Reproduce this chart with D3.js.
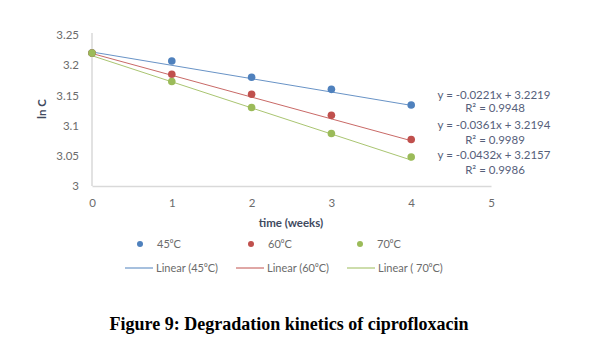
<!DOCTYPE html>
<html><head><meta charset="utf-8">
<script src="https://cdn.jsdelivr.net/npm/d3@7"></script>
<style>body{margin:0;background:#fff}</style>
</head><body>
<svg id="c" width="589" height="344"></svg>
<script>
const weeks = [0, 1, 2, 3, 4];
const seriesNames = ["45⁰C", "60⁰C", "70⁰C"];
const trendNames = ["Linear (45⁰C)", "Linear (60⁰C)", "Linear ( 70⁰C)"];
const vals45 = [3.220, 3.207, 3.180, 3.160, 3.134];
const vals60 = [3.220, 3.185, 3.152, 3.117, 3.077];
const vals70 = [3.220, 3.173, 3.130, 3.087, 3.048];
const slopes = [-0.0221, -0.0361, -0.0432];
const intercepts = [3.2219, 3.2194, 3.2157];
const r2 = ["0.9948", "0.9989", "0.9986"];
const xTicks = [0, 1, 2, 3, 4, 5];
const yTicks = [3, 3.05, 3.1, 3.15, 3.2, 3.25];
const colors = ["#4F81BD", "#C0504D", "#9BBB59"];

const FONT = "Lato, Carlito, 'Liberation Sans', sans-serif";
const svg = d3.select("#c");
const x = d3.scaleLinear().domain([0, 5]).range([92, 491]);
const y = d3.scaleLinear().domain([3, 3.25]).range([186, 35]);
const allVals = [vals45, vals60, vals70];

// axes
const yAxis = svg.append("g").attr("transform", "translate(92,0)")
  .call(d3.axisLeft(y).tickValues(yTicks).tickSize(0).tickPadding(13).tickFormat(d => String(+d.toFixed(2))));
const xAxis = svg.append("g").attr("transform", "translate(0,186)")
  .call(d3.axisBottom(x).tickValues(xTicks).tickSize(0).tickPadding(13).tickFormat(d3.format("d")));
[yAxis, xAxis].forEach(g => {
  g.select(".domain").attr("stroke", "#D9D9D9").attr("stroke-width", 1.5);
  g.selectAll("text").attr("fill", "#6b6b6b").style("font-family", FONT).style("font-size", "11.5px");
});
yAxis.select(".domain").attr("d", "M0,33V186");

// trendlines
allVals.forEach((v, i) => {
  svg.append("line")
    .attr("x1", x(0)).attr("y1", y(intercepts[i]))
    .attr("x2", x(4)).attr("y2", y(intercepts[i] + slopes[i] * 4))
    .attr("stroke", colors[i]).attr("stroke-width", 1).attr("opacity", 0.85);
});
// points
allVals.forEach((v, i) => {
  svg.append("g").selectAll("circle").data(v).join("circle")
    .attr("cx", (d, j) => x(weeks[j])).attr("cy", d => y(d)).attr("r", 3.8)
    .attr("fill", colors[i]);
});

// equations
const eqY = [[99, 112], [129, 143.5], [158.5, 174]];
const eqFont = g => g.attr("text-anchor", "middle").attr("fill", "#56607a")
  .style("font-family", FONT).style("font-size", "11.5px");
eqY.forEach((p, i) => {
  svg.append("text").attr("x", 494).attr("y", p[0]).call(eqFont)
    .text(`y = ${slopes[i].toFixed(4)}x + ${intercepts[i].toFixed(4)}`);
  svg.append("text").attr("x", 495).attr("y", p[1]).call(eqFont)
    .text(`R² = ${r2[i]}`);
});

// axis titles
svg.append("text").attr("transform", "translate(46,109) rotate(-90)").attr("text-anchor", "middle")
  .attr("fill", "#3f4a60").style("font-family", FONT).style("font-size", "11.5px").style("font-weight", "bold")
  .text("ln C");
svg.append("text").attr("x", 291).attr("y", 227).attr("text-anchor", "middle")
  .attr("fill", "#3f4a60").style("font-family", FONT).style("font-size", "11.5px").style("font-weight", "bold")
  .text("time (weeks)");

// legend
const lfont = g => g.attr("fill", "#6b6b6b").style("font-family", FONT).style("font-size", "11px");
const mX = [140, 251, 360];
seriesNames.forEach((n, i) => {
  svg.append("circle").attr("cx", mX[i]).attr("cy", 244).attr("r", 3).attr("fill", colors[i]);
  svg.append("text").attr("x", mX[i] + 17).attr("y", 248).call(lfont).text(n);
});
const lX = [125, 236, 347];
trendNames.forEach((n, i) => {
  svg.append("line").attr("x1", lX[i]).attr("x2", lX[i] + 28).attr("y1", 268).attr("y2", 268)
    .attr("stroke", colors[i]).attr("stroke-width", 1);
  svg.append("text").attr("x", lX[i] + 31).attr("y", 272).call(lfont).text(n);
});

// caption
svg.append("text").attr("x", 289).attr("y", 330).attr("text-anchor", "middle")
  .attr("fill", "#000").style("font-family", "'Liberation Serif', 'Times New Roman', serif").style("font-size", "18px").style("font-weight", "bold")
  .text("Figure 9: Degradation kinetics of ciprofloxacin");
</script>
</body></html>
